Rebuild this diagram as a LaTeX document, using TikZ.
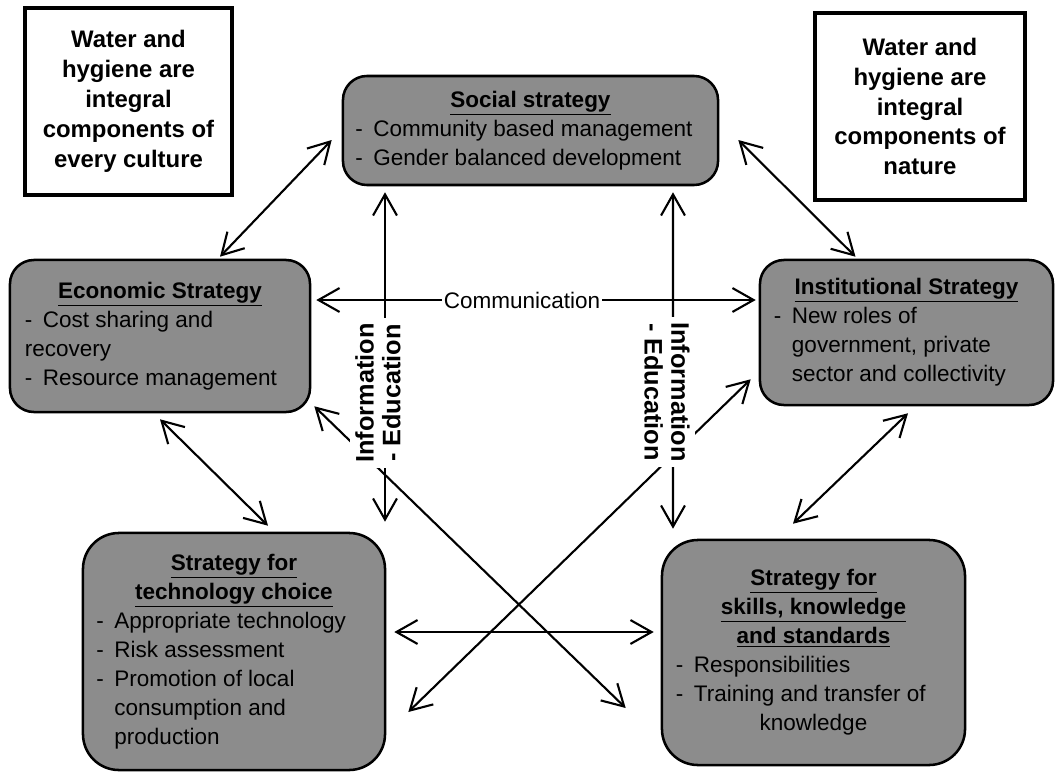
\documentclass[tikz,border=0pt]{standalone}
\usepackage{fontspec}
\setmainfont{Liberation Sans}
\usetikzlibrary{arrows.meta}
\setlength{\parindent}{0pt}
% width reserved for the leading dash of a list item
\newlength{\dashw}\setlength{\dashw}{0.45cm}
\newcommand{\hd}[1]{\makebox[\hsize]{\bfseries\underline{#1}}}
\newcommand{\itm}[1]{\makebox[\dashw][l]{-}#1}
\newcommand{\cont}[1]{\hspace*{\dashw}#1}
\begin{document}
\begin{tikzpicture}[x=0.025cm,y=-0.025cm,
  notebox/.style={draw, line width=2.4pt, fill=white, align=center, inner sep=0pt,
    font=\bfseries\fontsize{17pt}{21.3pt}\selectfont, minimum height=4.675cm},
  stratbox/.style={draw, line width=1.8pt, fill=black!45, rounded corners=0.6cm,
    align=flush left, inner sep=0pt, font=\fontsize{16pt}{20.6pt}\selectfont},
  dbl/.style={{Straight Barb[length=15pt,width=17pt]}-{Straight Barb[length=15pt,width=17pt]}, line width=1.5pt},
  lab/.style={fill=white, inner sep=4pt}]
\useasboundingbox (0,0) rectangle (1058,775);

% statements in the upper corners
\node[notebox, minimum width=5.175cm] (note1) at (128.5,101.5)
  {Water and\\hygiene are\\integral\\components of\\every culture};
\node[notebox, minimum width=5.25cm] (note2) at (920,106.5)
  {Water and\\hygiene are\\integral\\components of\\nature};

% the five strategies
\node[stratbox, minimum width=9.375cm, minimum height=2.725cm, text width=8.75cm] (soc) at (530.5,130.5)
  {\hd{Social strategy}\\ \itm{Community based management}\\ \itm{Gender balanced development}};
\node[stratbox, minimum width=7.5cm, minimum height=3.8cm, text width=6.75cm] (econ) at (160,336)
  {\hd{Economic Strategy}\\ \itm{Cost sharing and}\\ recovery\\ \itm{Resource management}};
\node[stratbox, minimum width=7.325cm, minimum height=3.625cm, text width=6.625cm] (inst) at (906.5,332.5)
  {\hd{Institutional Strategy}\\ \itm{New roles of}\\ \cont{government, private}\\ \cont{sector and collectivity}};
\node[stratbox, rounded corners=0.9cm, minimum width=7.55cm, minimum height=5.925cm, text width=6.875cm] (tech) at (234,651.5)
  {\hd{Strategy for}\\ \hd{technology choice}\\ \itm{Appropriate technology}\\ \itm{Risk assessment}\\
   \itm{Promotion of local}\\ \cont{consumption and}\\ \cont{production}};
\node[stratbox, rounded corners=0.9cm, minimum width=7.575cm, minimum height=5.625cm, text width=6.875cm] (skill) at (813.5,652.5)
  {\hd{Strategy for}\\ \hd{skills, knowledge}\\ \hd{and standards}\\ \itm{Responsibilities}\\
   \itm{Training and transfer of}\\ \makebox[\hsize]{knowledge}};

% two-way links between the strategies
\draw[dbl] ([shift={(-10,9.5)}]soc.west) -- ([shift={(60,-2)}]econ.north);
\draw[dbl] ([shift={(19,9.5)}]soc.east) -- ([shift={(-51,-2)}]inst.north);
\draw[dbl] ([shift={(5,-36)}]econ.east) -- ([shift={(-3,-32.5)}]inst.west);
\draw[dbl] ([shift={(-145.5,6)}]soc.south) -- ([shift={(151,-10)}]tech.north);
\draw[dbl] ([shift={(142.5,6)}]soc.south) -- ([shift={(-140.5,-10)}]skill.north);
\draw[dbl] ([shift={(3,-7)}]econ.south east) -- ([shift={(-35,55.5)}]skill.west);
\draw[dbl] ([shift={(-8,-27)}]inst.south west) -- ([shift={(22,60.5)}]tech.east);
\draw[dbl] ([shift={(0,6)}]econ.south) -- ([shift={(34,-6)}]tech.north);
\draw[dbl] ([shift={(1.5,7)}]inst.south) -- ([shift={(-20.5,-15)}]skill.north);
\draw[dbl] ([shift={(8,-19.5)}]tech.east) -- ([shift={(-7,-20.5)}]skill.west);

% labels laid over the links
\node[lab, inner sep=1.5pt, font=\fontsize{16pt}{19pt}\selectfont] (comm) at (522,300) {Communication};
\node[lab, rotate=90, align=center, font=\bfseries\fontsize{18pt}{19pt}\selectfont] (info1) at (378,393)
  {Information\\- Education};
\node[lab, rotate=-90, align=center, font=\bfseries\fontsize{18pt}{19pt}\selectfont] (info2) at (667,392)
  {Information\\- Education};
\end{tikzpicture}
\end{document}
